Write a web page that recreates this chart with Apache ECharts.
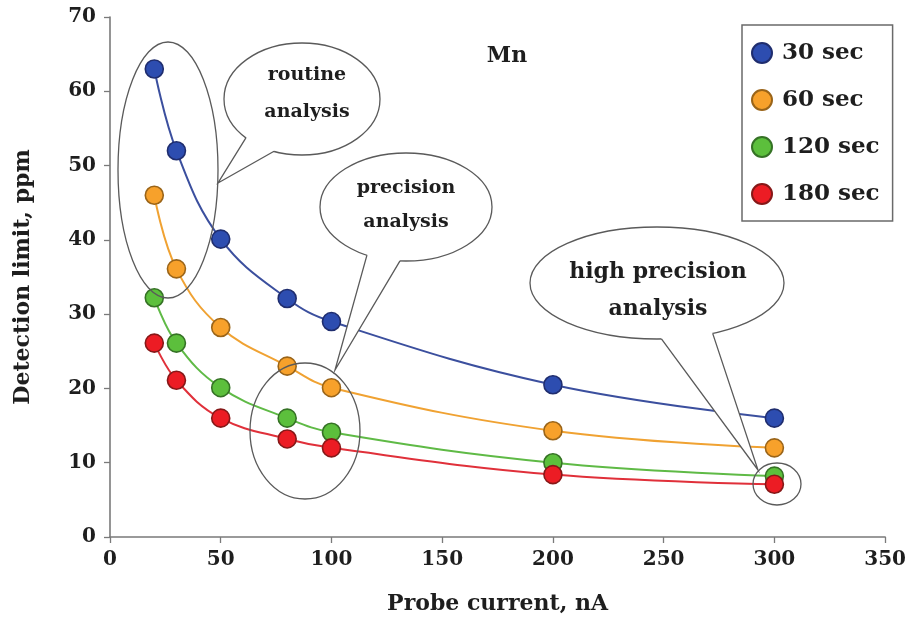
<!DOCTYPE html>
<html>
<head>
<meta charset="utf-8">
<script src="https://cdn.jsdelivr.net/npm/echarts@6/dist/echarts.min.js"></script>
<style>
html,body{margin:0;padding:0;background:#fff;}
#chart{width:909px;height:625px;}
</style>
</head>
<body>
<div id="chart"></div>
<script>
// ---- data ----
const probeCurrent = [20, 30, 50, 80, 100, 200, 300];
const sec30  = [63.0, 52.0, 40.1, 32.1, 29.0, 20.5, 16.0];
const sec60  = [46.0, 36.1, 28.2, 23.0, 20.1, 14.3, 12.0];
const sec120 = [32.2, 26.1, 20.1, 16.0, 14.1, 10.0, 8.2];
const sec180 = [26.1, 21.1, 16.0, 13.2, 12.0, 8.4, 7.1];
const seriesNames = ['30 sec', '60 sec', '120 sec', '180 sec'];
const xTicks = [0, 50, 100, 150, 200, 250, 300, 350];
const yTicks = [0, 10, 20, 30, 40, 50, 60, 70];
const elementLabel = 'Mn';
const xTitle = 'Probe current, nA';
const yTitle = 'Detection limit, ppm';
const notes = ['routine\nanalysis', 'precision\nanalysis', 'high precision\nanalysis'];

const FONT = 'DejaVu Serif';
const lineColors = ['#3b4f9e', '#f0a232', '#5fba46', '#e0303a'];
const fillColors = ['#2d4db0', '#f7a12b', '#5cbf3c', '#ec1c24'];
const borderColors = ['#1f2d6e', '#9a6418', '#357225', '#861818'];
const allData = [sec30, sec60, sec120, sec180];

const chart = echarts.init(document.getElementById('chart'));

const series = allData.map((vals, i) => ({
  name: seriesNames[i],
  type: 'line',
  data: probeCurrent.map((x, j) => [x, vals[j]]),
  smooth: 0.4,
  symbol: 'circle',
  symbolSize: 18,
  lineStyle: { color: lineColors[i], width: 2 },
  itemStyle: { color: fillColors[i], borderColor: borderColors[i], borderWidth: 1.6 },
  z: 2 + i
}));

// annotation helpers
const STROKE = '#5a5a5a';
function ellipse(cx, cy, rx, ry) {
  return { type: 'ellipse', shape: { cx, cy, rx, ry }, style: { fill: null, stroke: STROKE, lineWidth: 1.3 }, z: 100 };
}
function bubble(cx, cy, rx, ry, a1, a2, tip, text, fontSize, lineH, tx, ty) {
  const pt = (a, f) => [cx + rx * f * Math.cos(a * Math.PI / 180), cy + ry * f * Math.sin(a * Math.PI / 180)];
  return [
    { type: 'ellipse', shape: { cx, cy, rx, ry }, style: { fill: '#fff', stroke: STROKE, lineWidth: 1.3 }, z: 100 },
    { type: 'polygon', shape: { points: [pt(a1, 1), tip, pt(a2, 1), pt(a2, 0.92), pt(a1, 0.92)] }, style: { fill: '#fff', stroke: null }, z: 101 },
    { type: 'polyline', shape: { points: [pt(a1, 1), tip, pt(a2, 1)] }, style: { fill: null, stroke: STROKE, lineWidth: 1.3 }, z: 102 },
    { type: 'text', x: tx, y: ty, style: { text, font: 'bold ' + fontSize + 'px "' + FONT + '"', fill: '#1e1e1e', align: 'center', verticalAlign: 'middle', lineHeight: lineH }, z: 103 }
  ];
}

const graphics = [].concat(
  [ellipse(168, 170, 50, 128), ellipse(305, 431, 55, 68), ellipse(777, 484, 24, 21)],
  bubble(302, 99, 78, 56, 136, 111, [218, 183], notes[0], 19, 37, 307, 94),
  bubble(406, 207, 86, 54, 117, 94, [335, 370], notes[1], 19, 34, 406, 205),
  bubble(657, 283, 127, 56, 88, 64, [758, 470], notes[2], 22, 37, 658, 291),
  [{ type: 'text', x: 507, y: 56, style: { text: elementLabel, font: 'bold 22px "' + FONT + '"', fill: '#1e1e1e', align: 'center', verticalAlign: 'middle' }, z: 103 }]
);

const axisText = { fontFamily: FONT, fontWeight: 'bold', fontSize: 20, color: '#1e1e1e' };

chart.setOption({
  backgroundColor: '#fff',
  animation: false,
  grid: { left: 110, right: 21, top: 17, bottom: 88, containLabel: false },
  xAxis: {
    type: 'value', min: xTicks[0], max: xTicks[xTicks.length - 1], interval: xTicks[1] - xTicks[0],
    name: xTitle, nameLocation: 'middle', nameGap: 56,
    nameTextStyle: { fontFamily: FONT, fontWeight: 'bold', fontSize: 22, color: '#1e1e1e' },
    axisLine: { lineStyle: { color: '#7a7a7a', width: 1.6 } },
    axisTick: { show: true, length: 6, lineStyle: { color: '#7a7a7a', width: 1.3 } },
    axisLabel: Object.assign({ margin: 13 }, axisText),
    splitLine: { show: false }
  },
  yAxis: {
    type: 'value', min: yTicks[0], max: yTicks[yTicks.length - 1], interval: yTicks[1] - yTicks[0],
    name: yTitle, nameLocation: 'middle', nameGap: 76, nameRotate: 90,
    nameTextStyle: { fontFamily: FONT, fontWeight: 'bold', fontSize: 22, color: '#1e1e1e' },
    axisLine: { show: true, lineStyle: { color: '#7a7a7a', width: 1.6 } },
    axisTick: { show: true, length: 6, lineStyle: { color: '#7a7a7a', width: 1.3 } },
    axisLabel: Object.assign({ margin: 14 }, axisText),
    splitLine: { show: false }
  },
  legend: {
    data: seriesNames,
    orient: 'vertical',
    left: 742, top: 25,
    padding: [15, 13, 14, 9],
    itemWidth: 20, itemHeight: 20, itemGap: 21,
    icon: 'circle',
    borderColor: '#6a6a6a', borderWidth: 1.5, backgroundColor: '#fff',
    textStyle: { fontFamily: FONT, fontWeight: 'bold', fontSize: 23, color: '#1e1e1e', lineHeight: 26, padding: [0, 0, 0, 5] }
  },
  series: series,
  graphic: graphics
});
</script>
</body>
</html>
